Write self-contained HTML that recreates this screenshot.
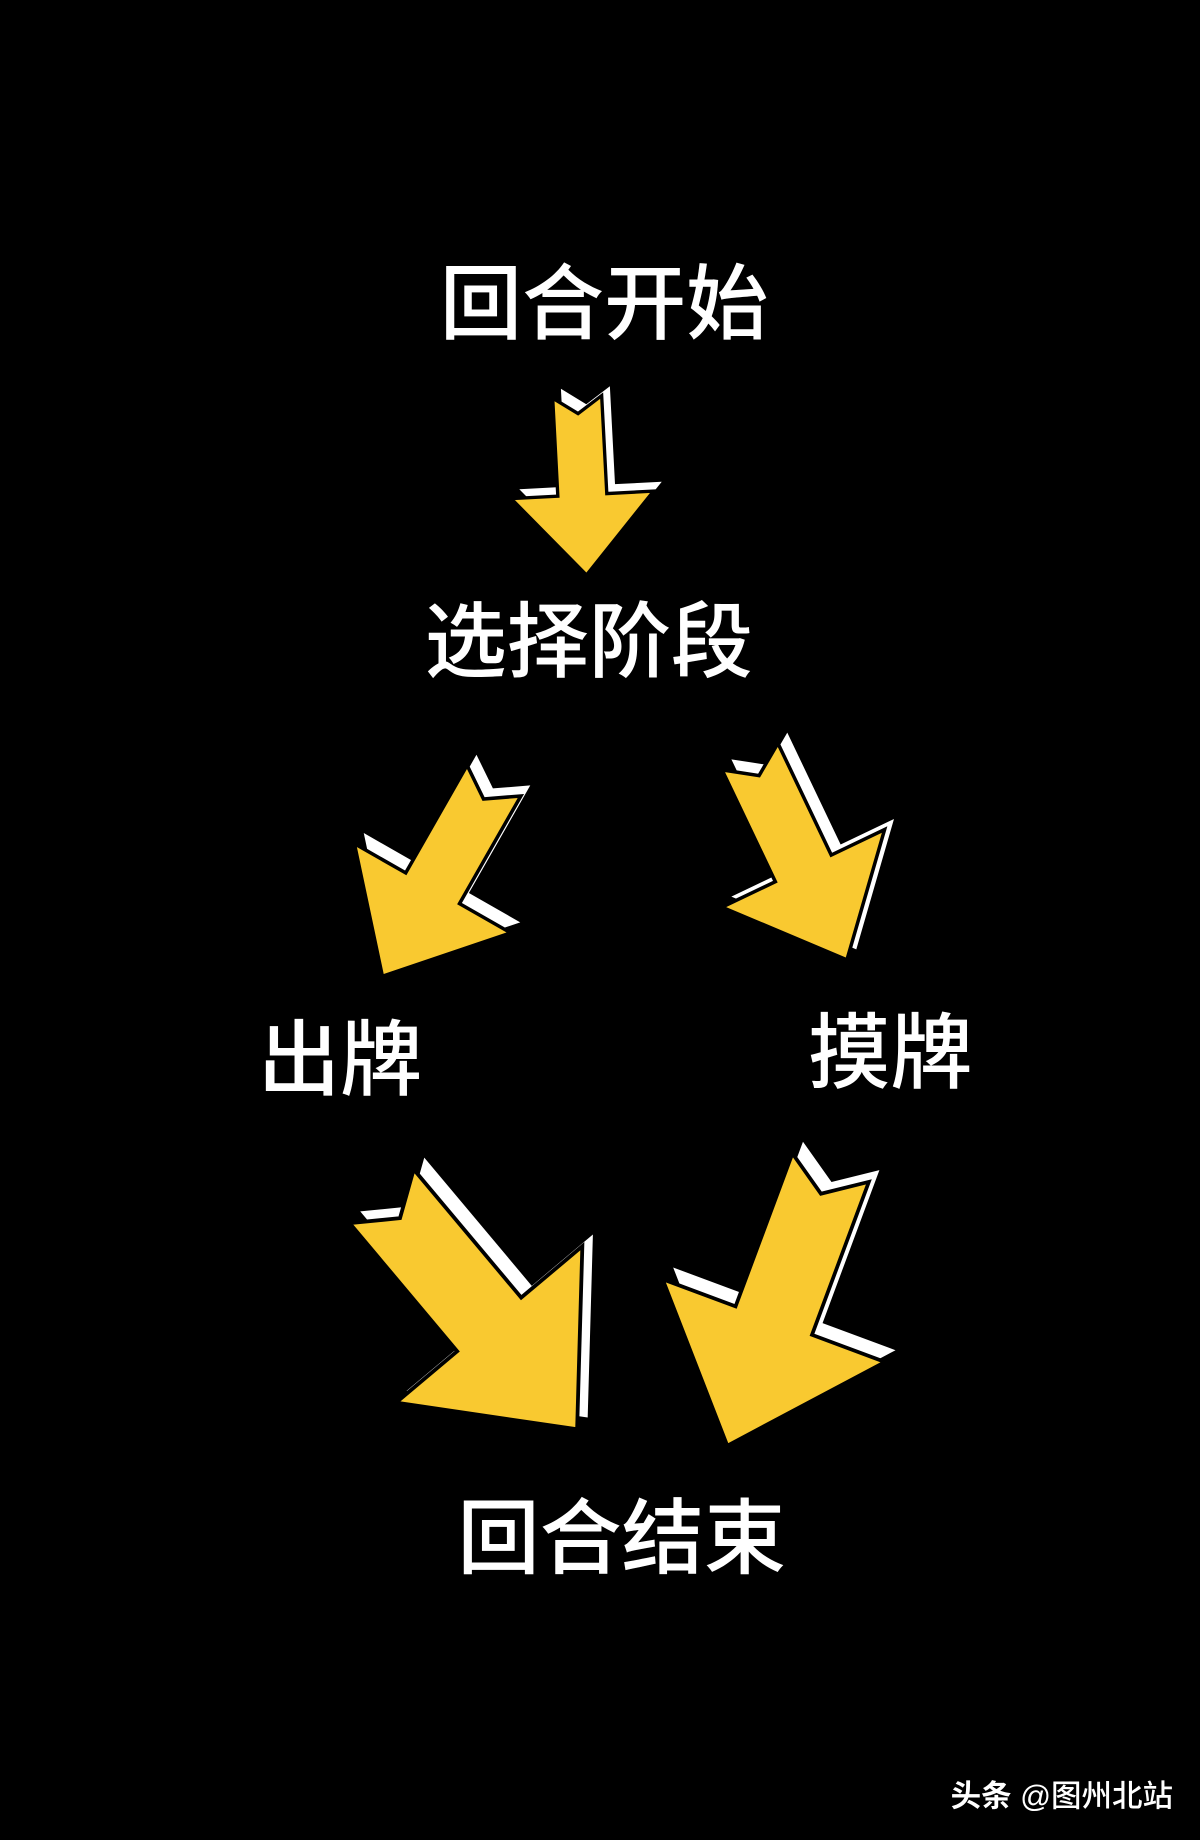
<!DOCTYPE html>
<html><head><meta charset="utf-8"><style>
html,body{margin:0;padding:0;background:#000;}
svg{display:block;}
text{font-family:"Liberation Sans","Noto Sans CJK SC",sans-serif;fill:#fff;font-weight:500;}
</style></head><body>
<svg width="1200" height="1840" viewBox="0 0 1023 1568" preserveAspectRatio="none" xmlns="http://www.w3.org/2000/svg">
<defs>
<polygon id="ar" points="0,0 -64,-72 -22,-72 -22,-160 0,-145 22,-160 22,-72 64,-72"/>
</defs>
<rect width="1023" height="1568" fill="#000"/>
<g>
  <g transform="translate(7,-8)"><use href="#ar" fill="#fff" transform="translate(500,490) rotate(-3) scale(0.95)"/></g>
  <use href="#ar" fill="#f9c930" stroke="#000" stroke-width="3" transform="translate(500,490) rotate(-3) scale(0.95)"/>

  <g transform="translate(8,-9)"><use href="#ar" fill="#fff" transform="translate(326,832) rotate(29.7) scale(1.2)"/></g>
  <use href="#ar" fill="#f9c930" stroke="#000" stroke-width="2.5" transform="translate(326,832) rotate(29.7) scale(1.2)"/>

  <g transform="translate(8,-9)"><use href="#ar" fill="#fff" transform="translate(722,818) rotate(-25.5) scale(1.2)"/></g>
  <use href="#ar" fill="#f9c930" stroke="#000" stroke-width="2.5" transform="translate(722,818) rotate(-25.5) scale(1.2)"/>

  <g transform="translate(9,-10)"><use href="#ar" fill="#fff" transform="translate(492,1218) rotate(-40) scale(1.62)"/></g>
  <use href="#ar" fill="#f9c930" stroke="#000" stroke-width="2" transform="translate(492,1218) rotate(-40) scale(1.62)"/>

  <g transform="translate(9,-10)"><use href="#ar" fill="#fff" transform="translate(620,1232) rotate(20.4) scale(1.58)"/></g>
  <use href="#ar" fill="#f9c930" stroke="#000" stroke-width="2" transform="translate(620,1232) rotate(20.4) scale(1.58)"/>
</g>
<g font-size="70" text-anchor="middle" dominant-baseline="central">
  <text x="515" y="260">回合开始</text>
  <text x="502" y="548">选择阶段</text>
  <text x="290" y="904">出牌</text>
  <text x="759" y="898">摸牌</text>
  <text x="530" y="1312">回合结束</text>
</g>
<text x="1000" y="1531" font-size="26" text-anchor="end" dominant-baseline="central"><tspan font-weight="bold">头条</tspan> @图州北站</text>
</svg>
</body></html>
